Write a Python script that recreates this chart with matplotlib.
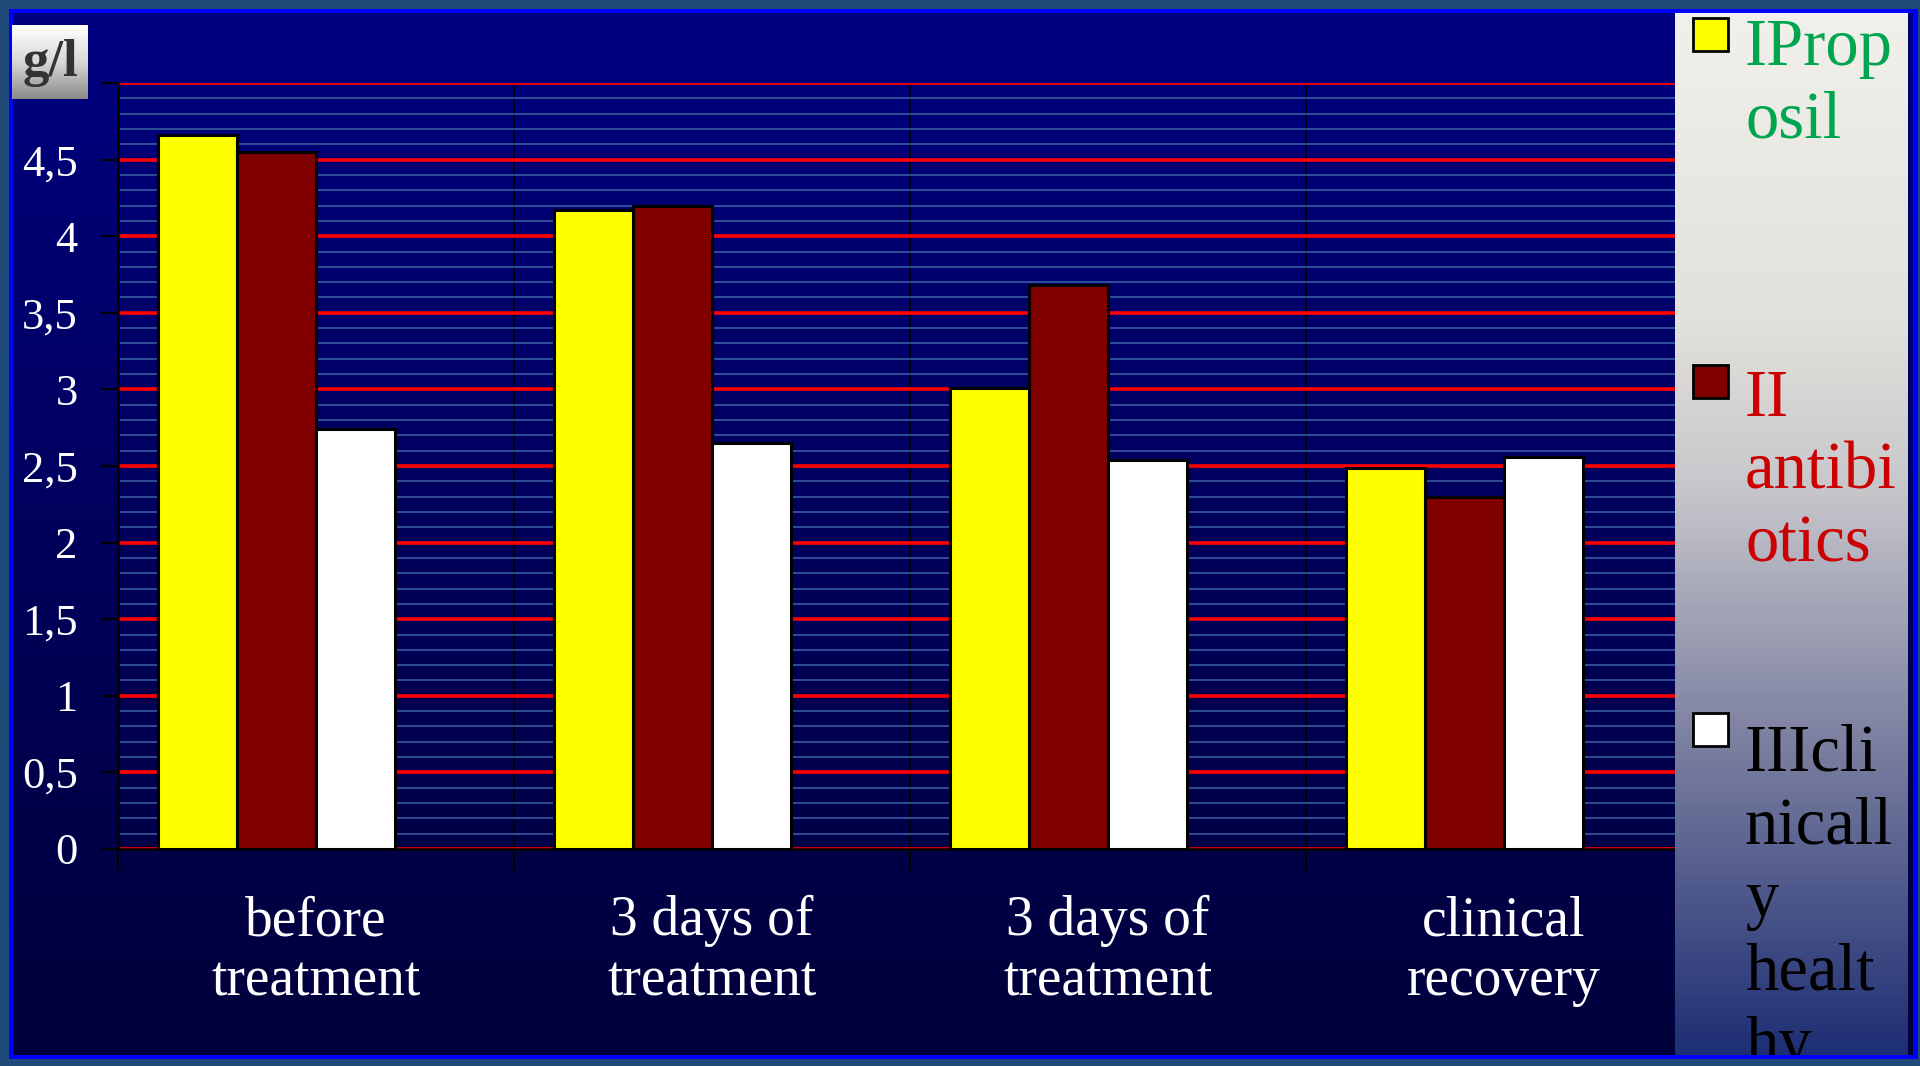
import numpy as np
import matplotlib
matplotlib.use("Agg")
import matplotlib.pyplot as plt
from matplotlib.patches import Rectangle
from matplotlib.colors import LinearSegmentedColormap
from matplotlib.ticker import MultipleLocator, FixedLocator

# ---------------- data ----------------
categories = ["before\ntreatment", "3 days of\ntreatment", "3 days of\ntreatment", "clinical\nrecovery"]
series_names = ["IProp\nosil", "II\nantibi\notics", "IIIcli\nnicall\ny\nhealt\nhy"]
propolis = [4.66, 4.17, 3.01, 2.49]
antibiotics = [4.55, 4.20, 3.68, 2.30]
healthy = [2.74, 2.65, 2.54, 2.56]
y_ticks = [0, 0.5, 1, 1.5, 2, 2.5, 3, 3.5, 4, 4.5, 5]
y_tick_labels = ["0", "0,5", "1", "1,5", "2", "2,5", "3", "3,5", "4", "4,5", ""]
unit_label = "g/l"

bar_colors = ["#FFFF00", "#800000", "#FFFFFF"]
text_colors = ["#00A550", "#CC0000", "#000000"]
serif = ["Liberation Serif", "DejaVu Serif"]

W, H = 1920, 1066
fig = plt.figure(figsize=(W / 100, H / 100), dpi=100)
fig.patch.set_facecolor("#1F4A7A")


def fr(x0, y0, x1, y1):
    """pixel box (top-left origin) -> figure fraction rect"""
    return [x0 / W, 1 - y1 / H, (x1 - x0) / W, (y1 - y0) / H]


# blue frame
frame = fig.add_axes(fr(9, 9, 1918, 1059), zorder=-3)
frame.set_facecolor("#0000FF")
frame.set_xticks([]); frame.set_yticks([])
for s in frame.spines.values():
    s.set_visible(False)

# inner dark-navy gradient background
bg = fig.add_axes(fr(13, 13, 1913, 1055), zorder=-2)
bg_cmap = LinearSegmentedColormap.from_list("bg", ["#000080", "#00005C", "#00003A"])
bg.imshow(np.linspace(0, 1, 256).reshape(-1, 1), aspect="auto", cmap=bg_cmap,
          extent=[0, 1, 0, 1], origin="upper")
bg.set_axis_off()

# ---------------- main axes ----------------
ax = fig.add_axes(fr(118, 83, 1702, 849), zorder=0)
ax.set_facecolor("none")
n = len(categories)
x = np.arange(n)
width = 0.2
offsets = [-0.3, -0.1, 0.1]
for vals, off, col in zip([propolis, antibiotics, healthy], offsets, bar_colors):
    ax.bar(x + off, vals, width=width, color=col, edgecolor="black", linewidth=2.2, zorder=3)

ax.set_xlim(-0.5, n - 0.5)
ax.set_ylim(0, 5)

# grid lines
ax.yaxis.set_major_locator(FixedLocator(y_ticks))
ax.yaxis.set_minor_locator(MultipleLocator(0.1))
ax.set_yticklabels(y_tick_labels)
ax.grid(axis="y", which="minor", color="#34549A", linewidth=1.3, zorder=1)
ax.grid(axis="y", which="major", color="#FF0000", linewidth=2.6, zorder=1.5)
ax.set_axisbelow(True)

ax.xaxis.set_major_locator(FixedLocator(np.arange(n + 1) - 0.5))
ax.set_xticklabels([])
ax.grid(axis="x", which="major", color="black", linewidth=1.2, zorder=1.6)

ax.tick_params(axis="y", which="major", length=12, width=1.5, color="black", pad=17,
               labelsize=32, labelcolor="white")
ax.tick_params(axis="y", which="minor", length=0)
ax.tick_params(axis="x", which="major", length=16, width=1.5, color="black", direction="out")
for lab in ax.get_yticklabels():
    lab.set_family(serif)

for side in ["top", "right"]:
    ax.spines[side].set_visible(False)
for side in ["left", "bottom"]:
    ax.spines[side].set_color("black")
    ax.spines[side].set_linewidth(1.8)

# category labels (va='baseline' anchors the last line)
trans = matplotlib.transforms.blended_transform_factory(ax.transData, fig.transFigure)
for xi, lab in zip(x, categories):
    ax.text(xi, 1 - 995 / H, lab, transform=trans, ha="center", va="baseline",
            color="white", fontsize=40, family=serif, linespacing=1.2, clip_on=False)

# ---------------- unit box ----------------
ub = fig.add_axes(fr(12, 25, 88, 99), zorder=2)
ub_cmap = LinearSegmentedColormap.from_list("ub", ["#FFFFFF", "#D8D8D8", "#8A8A8A"])
ub.imshow(np.linspace(0, 1, 256).reshape(-1, 1), aspect="auto", cmap=ub_cmap,
          extent=[0, 1, 0, 1], origin="upper")
ub.set_axis_off()
ub.text(0.5, 0.48, unit_label, ha="center", va="center", fontsize=38, fontweight="bold",
        color="#333333", family=serif, transform=ub.transAxes)

# ---------------- legend panel ----------------
lx0, ly0, lx1, ly1 = 1675, 13, 1908, 1055
lg = fig.add_axes(fr(lx0, ly0, lx1, ly1), zorder=5)
lg_cmap = LinearSegmentedColormap.from_list(
    "lg", [(0.0, "#F2F0EA"), (0.3, "#E2E0DA"), (0.45, "#C8C8CC"),
           (0.7, "#7C80A0"), (1.0, "#1E2E74")])
lg.imshow(np.linspace(0, 1, 256).reshape(-1, 1), aspect="auto", cmap=lg_cmap,
          extent=[0, 1, 0, 1], origin="upper")
lg.set_xlim(0, 1); lg.set_ylim(0, 1)
lg.set_axis_off()


def lgx(px):
    return (px - lx0) / (lx1 - lx0)


def lgy(py):
    return 1 - (py - ly0) / (ly1 - ly0)


marker_tops = [18, 365, 713]
text_baselines = [61, 408, 755]
line_step = 77
for name, col, tcol, mt, tb in zip(series_names, bar_colors, text_colors, marker_tops, text_baselines):
    lg.add_patch(Rectangle((lgx(1693), lgy(mt + 33)), lgx(1728) - lgx(1693), lgy(mt) - lgy(mt + 33),
                           facecolor=col, edgecolor="black", linewidth=2, zorder=3))
    nlines = name.count("\n") + 1
    last_baseline = tb + (nlines - 1) * line_step
    lg.text(lgx(1745), lgy(last_baseline), name, ha="left", va="baseline", color=tcol,
            fontsize=48, family=serif, linespacing=1.26, zorder=4, clip_on=True)

fig.savefig("out.png", dpi=100, facecolor=fig.get_facecolor())
